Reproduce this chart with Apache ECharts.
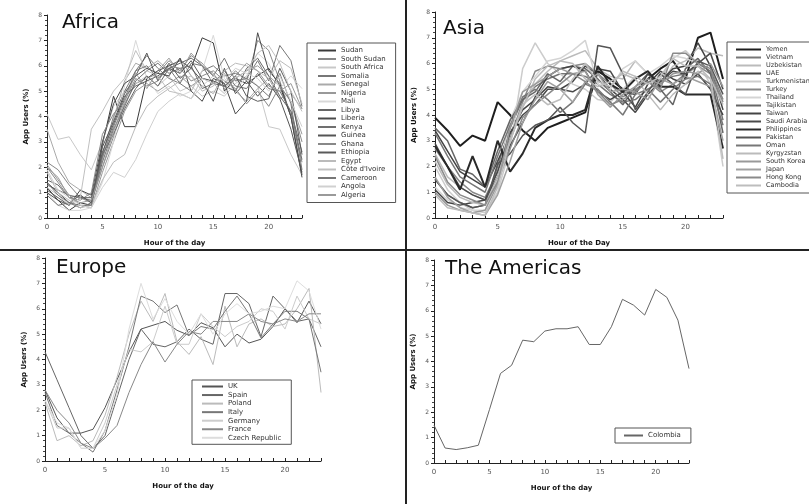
<!DOCTYPE html>
<html>
<head>
<meta charset="utf-8">
<script src="https://cdn.jsdelivr.net/npm/echarts@6/dist/echarts.min.js"></script>
<style>html,body{margin:0;padding:0;background:#fff}#c{width:809px;height:504px}</style>
</head>
<body>
<div id="c"></div>
<script>
// ---- data ----
const hours = [0,1,2,3,4,5,6,7,8,9,10,11,12,13,14,15,16,17,18,19,20,21,22,23];
const yTicks = [0,1,2,3,4,5,6,7,8];
const xTickLabels = [0,5,10,15,20];

const africaNames = ['Sudan','South Sudan','South Africa','Somalia','Senegal','Nigeria','Mali','Libya','Liberia','Kenya','Guinea','Ghana','Ethiopia','Egypt',"Côte d'Ivoire",'Cameroon','Angola','Algeria'];
const sudan       = [1.2,0.7,0.3,0.6,0.5,2.9,4.8,3.6,3.6,5.5,5.8,6.0,6.2,5.9,7.1,6.9,5.0,5.5,5.3,5.6,5.9,5.2,4.0,1.7];
const southSudan  = [2.2,1.9,1.3,0.8,0.6,2.0,3.2,4.5,5.3,5.5,5.7,6.2,5.8,6.4,6.1,5.6,5.3,5.8,5.4,7.0,6.6,5.4,4.0,2.2];
const southAfrica = [4.1,3.1,3.2,2.5,1.9,3.0,4.4,5.0,5.3,5.6,5.2,5.6,5.0,5.2,4.8,5.0,4.8,5.3,5.6,5.2,3.6,3.5,2.5,1.7];
const somalia     = [1.3,1.1,0.9,0.8,0.7,2.5,4.0,5.0,5.8,6.4,5.9,5.5,5.3,5.0,5.8,6.0,5.6,5.7,5.5,6.2,5.4,6.8,6.2,4.4];
const senegal     = [3.5,2.2,1.4,1.1,0.8,2.3,3.9,5.4,6.1,5.9,6.2,5.8,6.3,5.6,5.2,4.9,5.7,5.0,4.6,5.1,5.5,4.7,4.9,4.3];
const nigeria     = [2.1,1.5,0.9,0.5,0.4,1.8,3.0,4.2,5.0,5.3,5.0,5.3,5.6,5.2,5.5,5.4,5.2,5.5,5.8,6.0,5.6,5.2,4.6,3.3];
const mali        = [1.0,0.5,0.3,0.3,0.4,1.4,3.0,5.2,7.0,5.5,4.9,5.2,4.8,5.0,5.8,7.2,5.5,5.0,5.6,6.5,6.1,5.1,5.6,5.1];
const libya       = [1.5,1.3,0.8,0.9,0.6,2.5,3.3,4.3,5.1,5.6,5.2,5.9,6.1,6.3,6.0,5.3,5.2,5.0,5.9,6.3,5.6,4.8,4.2,2.6];
const liberia     = [1.0,0.7,0.5,1.1,0.9,3.0,4.5,5.3,5.6,5.9,5.7,5.6,6.3,5.0,4.6,5.5,5.3,4.1,4.6,7.3,5.8,5.3,4.0,1.6];
const kenya       = [0.9,0.5,0.6,0.4,0.6,2.2,3.5,4.4,5.4,5.8,6.1,5.7,5.9,6.0,5.1,5.3,5.8,5.2,5.1,5.7,5.1,5.0,4.2,2.3];
const guinea      = [1.4,1.0,0.6,0.9,0.6,2.8,3.8,4.9,5.6,6.5,5.4,6.1,5.5,5.9,5.4,4.6,5.9,4.9,5.4,4.8,5.3,4.7,3.5,1.8];
const ghana       = [2.0,1.4,0.8,0.7,1.0,3.3,4.1,4.6,5.5,5.2,5.4,6.0,5.9,5.4,5.6,5.8,5.4,5.1,4.5,5.0,4.4,5.2,4.6,3.0];
const ethiopia    = [1.1,0.8,0.5,0.8,0.8,2.6,3.7,4.8,5.2,5.4,5.6,5.9,5.7,6.2,5.5,5.4,5.2,5.6,4.8,4.6,4.7,5.9,5.0,2.5];
const egypt       = [1.8,1.0,0.7,0.4,0.5,1.5,2.2,2.5,3.6,4.4,4.8,5.1,5.4,5.6,5.0,5.2,5.8,6.1,6.0,5.8,5.5,6.2,5.9,4.5];
const coteIvoire  = [1.2,0.9,0.5,0.8,3.5,4.2,5.0,5.5,6.6,5.8,5.6,5.0,4.9,4.7,5.5,5.3,4.9,5.5,5.8,6.5,6.8,6.1,5.0,4.2];
const cameroon    = [1.4,0.9,0.6,0.5,0.5,2.4,3.6,4.7,5.8,6.0,5.5,5.9,5.3,6.1,6.0,5.6,6.3,5.4,5.5,5.2,4.8,5.7,4.5,1.9];
const angola      = [1.9,1.1,0.8,0.5,0.4,1.2,1.8,1.6,2.3,3.3,4.2,4.6,4.9,4.7,5.2,5.6,5.4,5.9,5.7,5.5,5.0,5.6,4.6,3.6];
const algeria     = [2.0,1.6,0.8,0.6,0.7,2.0,3.4,4.6,5.7,5.1,5.8,6.3,5.7,6.5,6.0,5.7,5.1,5.6,6.1,5.8,5.2,5.0,5.3,4.3];

const asiaNames = ['Yemen','Vietnam','Uzbekistan','UAE','Turkmenistan','Turkey','Thailand','Tajikistan','Taiwan','Saudi Arabia','Philippines','Pakistan','Oman','Kyrgyzstan','South Korea','Japan','Hong Kong','Cambodia'];
const yemen        = [3.9,3.4,2.8,3.2,3.0,4.5,4.0,3.4,3.0,3.5,3.7,3.9,4.1,5.7,5.4,5.0,4.9,5.4,5.8,6.1,5.4,7.0,7.2,5.4];
const vietnam      = [1.5,0.9,0.6,0.4,0.5,2.0,3.5,4.6,5.1,5.4,5.6,5.6,5.5,5.2,4.8,4.5,4.6,5.0,5.3,5.5,5.6,6.0,5.7,3.8];
const uzbekistan   = [2.5,1.6,1.2,0.9,0.7,1.3,3.0,4.3,5.2,5.7,6.1,6.3,6.5,5.8,5.5,5.4,6.1,5.6,5.2,5.9,6.1,6.6,6.4,6.3];
const uae          = [3.4,2.6,1.8,1.5,1.2,2.2,3.3,4.2,4.6,5.1,5.0,5.3,5.9,5.6,5.0,4.6,4.1,4.8,5.3,5.8,5.9,6.8,5.9,4.2];
const turkmenistan = [2.0,1.1,0.6,0.3,0.2,1.0,2.7,5.8,6.8,6.0,5.6,5.2,5.0,4.6,4.5,5.0,5.5,5.2,5.4,6.2,6.5,6.0,5.2,2.0];
const turkey       = [2.7,2.0,1.4,1.0,0.8,1.8,3.1,4.5,5.7,5.9,5.8,5.9,6.0,5.6,5.2,4.7,5.0,5.3,4.9,5.2,5.6,5.9,5.6,4.5];
const thailand     = [1.2,0.7,0.4,0.3,0.3,1.5,3.8,4.9,5.5,6.1,6.2,6.5,6.9,5.2,5.0,5.8,6.1,5.6,5.9,6.3,6.2,6.0,6.4,5.0];
const tajikistan   = [3.5,3.0,1.9,1.7,1.2,2.6,3.8,4.6,4.9,5.6,5.3,5.9,5.8,5.4,4.9,4.4,5.1,5.6,5.0,4.4,5.8,6.2,5.6,3.3];
const taiwan       = [1.1,0.6,0.5,0.6,0.7,1.6,2.8,3.7,4.7,5.5,5.8,5.9,5.7,4.9,4.6,4.9,4.3,5.2,5.7,5.4,5.2,5.6,5.0,4.0];
const saudiArabia  = [2.9,2.0,1.2,0.9,0.7,1.8,3.3,4.0,4.4,5.0,5.0,4.9,5.2,5.8,5.7,4.9,4.8,5.6,5.3,5.7,5.6,6.0,6.4,5.0];
const philippines  = [2.8,2.0,1.1,2.4,1.2,3.0,1.8,2.5,3.5,3.8,4.0,4.0,4.2,5.9,5.2,4.9,5.4,5.7,5.1,5.1,4.8,4.8,4.8,2.7];
const pakistan     = [1.5,0.9,0.6,0.4,0.5,2.1,2.5,3.2,3.6,3.8,4.3,3.7,3.3,6.7,6.6,5.6,4.2,4.9,5.6,5.2,4.8,6.1,5.9,4.8];
const oman         = [3.3,2.4,1.6,1.3,1.0,2.4,3.6,4.7,5.0,4.6,4.1,4.5,5.2,5.0,4.5,4.0,4.8,5.0,4.5,5.0,5.4,5.5,5.2,3.6];
const kyrgyzstan   = [2.2,1.3,0.8,0.6,0.5,1.6,3.0,4.3,5.4,5.9,6.1,6.0,5.4,5.1,5.3,5.6,5.4,4.8,4.2,4.8,5.2,5.7,5.4,4.4];
const southKorea   = [1.0,0.5,0.3,0.2,0.3,1.3,3.5,4.9,5.2,5.5,5.8,5.6,5.7,4.8,4.3,4.8,5.1,5.4,5.2,5.6,5.7,5.6,6.0,5.1];
const japan        = [1.6,0.8,0.4,0.2,0.1,0.9,2.2,3.7,4.6,5.3,5.0,4.5,5.3,5.6,4.9,5.0,4.9,4.6,5.4,5.2,5.5,5.3,5.1,3.0];
const hongKong     = [2.4,1.4,0.9,0.7,0.5,1.4,2.7,3.9,4.4,4.8,5.2,5.6,5.3,4.9,4.4,4.6,4.9,5.3,5.0,6.4,6.4,6.0,5.8,4.6];
const cambodia     = [0.9,0.4,0.3,0.2,0.1,1.2,3.0,4.4,4.8,4.4,4.6,5.4,6.0,5.3,5.1,5.7,5.5,5.2,5.5,6.2,5.9,5.9,5.4,2.3];

const europeNames = ['UK','Spain','Poland','Italy','Germany','France','Czech Republic'];
const uk      = [2.8,1.7,1.1,1.1,1.25,2.1,3.2,4.3,5.2,5.35,5.5,5.15,4.95,5.45,5.25,4.5,5.0,4.65,4.8,5.3,6.0,5.45,6.3,5.4];
const spain   = [4.3,3.2,2.1,1.0,0.5,1.0,2.5,4.0,5.2,4.6,4.5,4.7,5.2,4.8,4.6,6.6,6.6,6.2,4.9,6.5,6.0,5.5,5.6,4.5];
const poland  = [2.3,0.8,1.0,0.6,0.8,1.8,3.3,5.0,6.3,5.5,6.6,4.7,4.2,4.9,3.8,6.1,4.5,5.4,5.6,5.3,5.4,6.0,6.8,2.7];
const italy   = [2.7,1.4,1.1,0.7,0.35,1.2,2.8,4.5,6.5,6.3,5.85,6.15,4.95,5.3,5.2,5.9,6.5,5.8,4.85,5.4,5.9,5.9,5.6,3.5];
const germany = [2.4,1.3,1.3,0.5,0.5,1.5,3.0,4.4,4.3,4.7,6.1,4.6,4.6,5.8,5.3,4.9,5.3,5.5,6.0,5.9,5.2,6.5,5.6,5.4];
const france  = [2.8,2.0,1.5,0.7,0.5,0.9,1.4,2.7,3.8,4.7,3.9,4.6,5.1,5.0,5.5,5.5,5.5,5.8,5.5,5.4,5.6,5.5,5.8,5.8];
const czech   = [2.4,1.5,1.3,0.5,0.5,1.2,2.6,5.2,7.0,5.6,6.4,5.5,5.0,5.8,5.0,5.8,6.2,5.8,5.9,6.1,6.0,7.1,6.7,5.2];

const americasNames = ['Colombia'];
const colombia = [1.49,0.59,0.53,0.6,0.7,2.1,3.53,3.85,4.84,4.78,5.2,5.29,5.29,5.37,4.67,4.67,5.37,6.45,6.22,5.83,6.84,6.53,5.63,3.72];

const africaValues = [sudan,southSudan,southAfrica,somalia,senegal,nigeria,mali,libya,liberia,kenya,guinea,ghana,ethiopia,egypt,coteIvoire,cameroon,angola,algeria];
const asiaValues = [yemen,vietnam,uzbekistan,uae,turkmenistan,turkey,thailand,tajikistan,taiwan,saudiArabia,philippines,pakistan,oman,kyrgyzstan,southKorea,japan,hongKong,cambodia];
const europeValues = [uk,spain,poland,italy,germany,france,czech];
const americasValues = [colombia];

// ---- styles ----
const africaColors = ['#3a3a3a','#888','#c8c8c8','#777','#aaa','#999','#d8d8d8','#666','#4a4a4a','#707070','#555','#888','#5a5a5a','#bbb','#c0c0c0','#777','#d0d0d0','#9a9a9a'];
const asiaColors = ['#1e1e1e','#777','#bbb','#444','#ccc','#888','#d4d4d4','#666','#444','#4a4a4a','#2a2a2a','#555','#777','#bbb','#999','#a0a0a0','#8a8a8a','#bdbdbd'];
const asiaWidths = [2,1.5,1.5,1.5,1.5,1.5,1.5,1.5,1.5,1.5,2,1.5,1.5,1.5,1.5,1.5,1.5,1.5];
const europeColors = ['#555','#666','#bbb','#777','#ccc','#888','#ddd'];
const americasColors = ['#666'];

const FF = 'DejaVu Sans';

const grids = [
  {left: 47, top: 15, width: 255, height: 203},
  {left: 435, top: 12, width: 288, height: 206},
  {left: 45, top: 258, width: 276, height: 203},
  {left: 434, top: 260, width: 255, height: 203}
];

function xAx(gi, name) {
  return {
    type: 'value', gridIndex: gi, min: hours[0], max: hours[hours.length - 1], interval: 1,
    name: name, nameLocation: 'middle', nameGap: 22,
    nameTextStyle: {fontSize: 7, fontWeight: 'bold', color: '#111', fontFamily: FF},
    axisLine: {lineStyle: {color: '#222', width: 1}},
    axisTick: {inside: true, length: 3, lineStyle: {color: '#222'}},
    axisLabel: {fontSize: 7, color: '#555', margin: 6, fontFamily: FF,
      formatter: v => xTickLabels.indexOf(v) >= 0 ? String(v) : ''},
    splitLine: {show: false}
  };
}
function yAx(gi) {
  return {
    type: 'value', gridIndex: gi, min: yTicks[0], max: yTicks[yTicks.length - 1], interval: 1,
    name: 'App Users (%)', nameLocation: 'middle', nameGap: 17, nameRotate: 90,
    nameTextStyle: {fontSize: 7, fontWeight: 'bold', color: '#111', fontFamily: FF},
    axisLine: {show: true, lineStyle: {color: '#222', width: 1}},
    axisTick: {show: true, inside: false, length: 3, lineStyle: {color: '#222'}},
    minorTick: {show: true, splitNumber: 5, length: 2, lineStyle: {color: '#444'}},
    axisLabel: {fontSize: 6, color: '#555', margin: 5, fontFamily: FF},
    splitLine: {show: false}
  };
}

const series = [];
function addPanel(gi, names, values, colors, widths) {
  names.forEach((n, i) => {
    series.push({
      type: 'line', name: n, xAxisIndex: gi, yAxisIndex: gi,
      data: hours.map((h, k) => [h, values[i][k]]),
      symbol: 'none', animation: false,
      lineStyle: {color: colors[i], width: widths ? widths[i] : 1},
      itemStyle: {color: colors[i]}
    });
  });
}
addPanel(0, africaNames, africaValues, africaColors);
addPanel(1, asiaNames, asiaValues, asiaColors, asiaWidths);
addPanel(2, europeNames, europeValues, europeColors);
addPanel(3, americasNames, americasValues, americasColors);

function leg(names, left, top, itemWidth, gap, fs, padding) {
  return {
    data: names, orient: 'vertical', left: left, top: top,
    itemWidth: itemWidth, itemHeight: 6, itemGap: gap,
    padding: padding, borderColor: '#555', borderWidth: 1, backgroundColor: '#fff',
    selectedMode: false,
    itemStyle: {opacity: 0},
    textStyle: {fontSize: fs, color: '#333', fontFamily: FF}
  };
}

const titleStyle = {fontSize: 20, fontWeight: 'normal', color: '#111', fontFamily: FF};
const option = {
  backgroundColor: '#fff',
  animation: false,
  title: [
    {text: 'Africa', left: 62, top: 13, padding: 0, textStyle: titleStyle},
    {text: 'Asia', left: 443, top: 19, padding: 0, textStyle: titleStyle},
    {text: 'Europe', left: 56, top: 258, padding: 0, textStyle: titleStyle},
    {text: 'The Americas', left: 445, top: 259, padding: 0, textStyle: titleStyle}
  ],
  grid: grids,
  xAxis: [xAx(0, 'Hour of the day'), xAx(1, 'Hour of the Day'), xAx(2, 'Hour of the day'), xAx(3, 'Hour of the day')],
  yAxis: [yAx(0), yAx(1), yAx(2), yAx(3)],
  legend: [
    leg(africaNames, 307, 43, 18, 1.5, 7, [4, 10, 4, 10]),
    leg(asiaNames, 727, 42, 25, 1.0, 6.5, [4, 6, 4, 8]),
    leg(europeNames, 192, 380, 21, 1.55, 7, [3, 10, 3, 9]),
    leg(americasNames, 615, 428, 19, 2, 7, [4, 10, 4, 8])
  ],
  graphic: [
    {type: 'line', shape: {x1: 406, y1: 0, x2: 406, y2: 504}, style: {stroke: '#222', lineWidth: 2}, z: 100},
    {type: 'line', shape: {x1: 0, y1: 250, x2: 809, y2: 250}, style: {stroke: '#222', lineWidth: 2}, z: 100}
  ],
  series: series
};
const chart = echarts.init(document.getElementById('c'), null, {renderer: 'canvas'});
chart.setOption(option);
</script>
</body>
</html>
